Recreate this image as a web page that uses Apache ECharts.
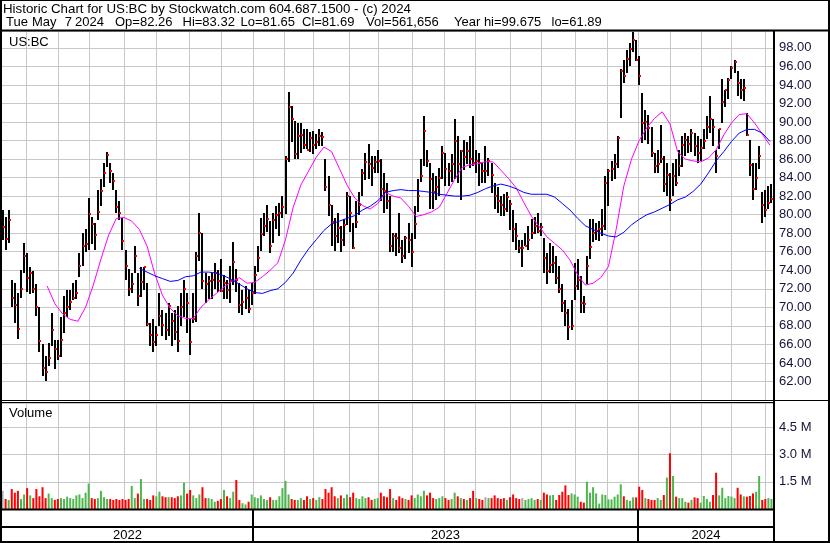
<!DOCTYPE html>
<html><head><meta charset="utf-8">
<script src="https://cdn.jsdelivr.net/npm/echarts@6/dist/echarts.min.js"></script>
<style>html,body{margin:0;padding:0;background:#fff}#c{width:830px;height:543px}</style>
</head><body><div id="c"></div>
<script>
// ---- DATA (one bar = 2 trading days, day index 0 = 9 May 2022, 502 trading days) ----
const highs = [80.5,79.8,80.5,73,72.6,71.5,74,76.9,75.9,74.4,73.9,72.5,70,66,64.7,66.1,69.4,66.5,66.5,69,71.2,71.9,71.9,72.6,73,75.9,78,78.4,81.8,79.8,
79.1,82.7,83.8,85.6,86.8,85.6,84.5,82.7,81.5,79.6,76.2,74.1,73.7,76.6,73.7,74.4,74.4,72.6,68.3,68.7,68,71.5,69.7,69.4,70.5,69.4,69.7,70.1,71.5,73,
71.5,68.7,71.6,76,80.2,78,73.7,73.4,73.7,74.8,74,75.2,73.5,73,74.5,77.1,74.1,72.6,71.9,72.3,71.9,72.6,74.5,76.6,79.6,80.2,81,79.3,80.2,80.9,
81.3,82,86.3,93.2,91.7,90.1,89.9,89.9,89.2,89.2,88.9,89,88.7,89.2,88.9,86,84.2,81,79.6,80.2,78.8,79.5,82.4,82,79.1,81.5,82.4,84.9,86.7,87.6,
86.3,86.3,87,86,84.5,83.4,82,78,78,80.2,77.3,77.7,79.1,78,80.9,83.8,86,90.6,87,85.6,84.5,84.2,85,87.4,86.7,85.6,86.5,90.3,88.5,87,
88.1,87.8,88.5,90.6,87,86.7,85.6,87.4,86.1,85.6,83.4,83,82,82.2,82.4,81.6,80.5,79.1,77.3,77.3,78,78.8,79.5,79.8,80.2,79.1,77.5,75.9,76.9,76.6,
75.5,74.5,72.5,70.8,69.8,70.8,74.8,75.2,73.4,71.2,75.5,79.5,79.5,79.1,79.3,80.6,84.2,84.9,85.8,86.5,88.5,95.7,96.7,97.8,98.5,99.675,98.9,97.1,93.1,91.3,
90.8,89.5,86.7,87,89.7,86.3,85.6,84.5,85.6,86,87,88.5,88.8,88.5,89.2,88.8,88.5,88.2,89.2,90.6,92.8,90.3,87,89.2,94.6,93.5,94.8,96,96.7,95.5,
94.6,94.6,91,88.1,85.6,85.6,87.4,82.4,82.7,83.1,83.32];
const lows = [77.3,76.2,76.9,70.1,68.3,66.5,71,73.7,71.7,71.5,71.5,69,65.1,62.5,62,63.6,65.8,63.4,64.3,64.7,67.2,69,69.7,70.8,71,73.3,74.4,75.9,76.2,76.9,
76.2,79.5,80.9,83,85.2,83.4,82.7,80.2,79.5,76.2,73,71.2,71.5,73.7,70.1,71.2,71.9,68,65.8,65.1,65.8,67.9,66.9,66.5,66.9,65.8,66.5,65.1,67.9,69,
67.2,64.8,68.4,68.5,75,72,70.5,70.9,70.9,72,71.6,71.6,70.9,70.9,70.5,72.5,71.6,69.4,69.2,69.8,69.4,70.2,71.5,73.8,76,77.7,78.1,75.9,77,78.4,
77.7,79.6,80,85.6,87.8,86,86,86.7,87,87,86.7,86.5,87.1,87.4,87.4,82.5,79.9,76.6,76,77,76,76.6,78.8,78.1,76.3,78.6,79.9,82,83.8,83.8,
83.1,84.5,84.5,81.5,80.2,80.6,76,75.9,75.5,75.9,74.8,75.2,75.9,74.3,77.3,80.2,83.5,85.2,85.2,80.6,80.6,81.6,82,83.8,83.1,83.1,83.5,83.8,83.4,81.6,
84.9,85.4,85,85.2,84.5,83.1,83.4,83.4,84.2,82.4,80.6,80.2,79.8,79.8,80.2,78.4,77,76.2,75.9,74.4,76.6,76.2,77.3,78,78,77.7,73.7,72.6,73.7,73.7,
72.5,71.6,69.5,68,66.5,67.6,70.8,71.9,69.4,69.4,72.5,75.2,77,77.3,77.1,77.7,78.4,80.9,83.6,83.8,85,90.4,94.2,95.3,96,97.5,96.6,94,87.7,88.1,
87.7,86.3,84.5,84.5,85.6,82.4,82,80.4,82,83.1,84.2,85.2,86.3,86.7,86.7,86.3,85.6,85.8,87,88.1,88.8,87.4,84.5,87,89.9,91.7,92.5,94.6,95.3,92.8,
92.4,92.2,88.5,84.2,81.6,82.7,84.9,79.1,79.8,80.6,81.3];
const closes = [78.7,77.4,79.4,71,70.3,67.7,72,75.5,73.2,73.7,72,70,66.4,63.5,63,64.5,67.5,65.5,64.8,66.5,69.4,70,70.6,71,71.5,74.5,76.6,76.8,80.1,79,
77.8,80.3,82.5,84.5,86.4,84.7,83.6,80.8,80.2,77.2,74.5,72,72.5,75.5,71.2,72.7,74.3,68.2,67,66.3,67,69.1,68.1,67.5,70.1,68.5,67.3,66.4,70,72,
70.5,66.3,68.7,75.5,78,72.8,72.5,72.8,73,73.7,72.8,71.8,72.6,71.9,72.8,74.9,73,70.3,70.6,71,69.8,71.5,73.5,75.3,77.9,78.8,79.5,76.6,79.4,80,
80.2,80.8,86,91.6,90.3,86.5,88.5,88.6,87.5,87,88.3,87.5,87.8,88.5,88.4,83,81,79.2,77.7,78.6,77.3,78.9,82,80.2,76.4,79.2,81,84.5,85.7,85.5,
85,85.7,85.8,82.8,82.5,81.5,76.6,77.7,77.5,76.4,75.5,77.5,77.3,76,79,82,84.2,89,85.8,83.8,82.4,83,84,86.7,84.9,84.7,85.5,87.9,85.5,86.9,
86.2,86.9,86,85.6,85.8,85.6,84.7,84.7,85.8,84.3,82,81.5,81,80.6,81.9,81.2,78.5,77.7,76.4,76.4,76.6,77.3,78,78.8,78.2,78.7,75.3,73.9,74.6,74.8,
73.2,72,70.5,69.4,67.9,68,72.3,73,70.5,70.4,74.5,76.5,78,78.2,78.4,78.8,83.4,84.7,84.9,85.5,88.3,95.5,95,96.8,97.9,98.8,96.7,95,89.9,90,
89.4,86.7,85.2,85.5,86,83.3,84.3,81.6,84.2,83.4,85.2,87.5,88.1,87.6,88.8,87.4,86.7,87.2,88,89.5,90.3,89.5,86.3,89.2,92.2,93.5,94.5,95.8,96.5,94.2,
93.5,93.7,88.6,85.4,82.8,84,86.3,81,80.5,81.3,81.69];
const volumes = [1.0,0.55,0.5,1.1,0.9,1.0,0.55,0.8,1.15,0.75,0.6,1.1,0.7,1.2,0.6,0.85,0.6,0.5,0.55,0.6,
0.55,0.68,0.6,0.55,0.75,0.8,0.6,0.9,1.4,0.6,0.55,0.6,1.0,0.65,0.55,0.55,0.5,0.55,0.5,0.55,
0.5,0.55,1.27,0.6,0.85,1.65,0.55,0.55,0.5,0.75,0.7,0.95,0.7,0.65,0.65,0.65,0.6,0.7,0.75,1.45,
0.85,1.05,0.75,0.6,0.8,1.2,0.6,0.6,0.55,0.4,0.45,0.55,1.05,0.7,0.6,0.95,1.6,0.5,0.32,0.25,
0.4,0.8,0.65,0.6,0.75,0.55,0.5,0.65,0.5,0.5,0.7,1.15,1.55,0.8,0.55,0.5,0.5,0.6,0.5,0.7,
0.55,0.6,0.5,0.65,0.55,1.1,0.9,1.2,0.7,0.6,0.75,0.6,0.8,0.65,0.9,0.6,0.55,0.7,0.6,0.65,
0.5,0.55,0.6,0.9,0.7,0.65,1.1,0.6,0.5,0.7,0.6,0.55,0.5,0.75,0.6,0.8,0.7,1.0,0.75,0.9,
0.6,0.55,0.6,0.7,0.6,0.5,0.55,0.9,0.7,0.6,0.55,0.5,0.6,1.0,0.6,0.55,0.5,0.65,0.6,0.6,
0.75,0.6,0.55,0.6,0.5,0.65,0.8,0.6,0.55,0.6,0.5,0.55,0.6,0.5,0.55,0.5,0.9,0.8,0.75,0.77,
0.5,0.77,0.95,1.3,0.77,0.86,0.8,0.68,0.4,0.35,1.5,0.9,1.2,0.86,0.3,0.8,0.77,0.53,0.53,0.68,
0.8,1.36,0.7,0.5,0.45,0.64,0.64,1.23,1.05,0.6,0.55,0.5,0.5,0.6,0.5,0.77,1.73,3.07,1.82,0.68,
0.6,0.6,0.4,0.35,0.5,0.64,0.6,0.35,0.72,0.55,0.4,0.77,2.0,0.75,1.17,0.6,0.72,0.68,0.6,1.17,
0.8,0.7,0.68,0.72,0.86,0.95,1.82,0.5,0.55,0.6,0.55];
// moving averages, one value every 5 trading days
const pinkStart = 30, blueStart = 90, maStep = 5;
const pinkMA = [72.3,70.4,69.3,68.7,68.5,70,72.4,75.2,77.8,79.6,79.7,79.3,78.4,76.6,73.6,71.3,69.9,69.1,68.8,68.8,
70,70.8,71.5,72.2,72.8,73.2,72.6,72.7,73.3,74,74.8,77.3,80.8,83.2,84.7,86.2,87.3,86.8,85,83.2,
81.8,81,80.6,81.2,82.4,82,81.8,80.9,79.8,80,80.3,80.8,82.3,83.8,85.1,85.4,85.5,85.7,85.7,84.8,
83.9,82.9,81.3,79.8,78.7,77.6,76.9,76.2,75.1,73.5,72.4,72.6,73.2,74.4,78.4,83.1,86,88,89.4,90.4,
91.1,89.8,86.8,86,85.8,85.7,86.1,87,88.6,89.9,90.8,90.9,89.9,88.7,87.5];
const blueMA = [74.2,73.8,73.4,73.1,72.8,72.9,73.3,73.4,73.8,73.8,73.7,73.4,73,72.5,72,71.6,71.5,71.8,72,72.7,
73.7,75.1,76.3,77.3,78.3,79,79.3,79.6,79.9,80.5,80.9,81.5,82.4,82.6,82.7,82.6,82.6,82.5,82.4,82.2,
82.1,82,82,82.1,82.4,82.8,83.1,83.3,83.1,82.8,82.4,82.2,82.2,82.2,81.9,81.2,80.5,79.6,78.8,78.4,
78,77.7,77.6,78.1,78.9,79.5,80,80.3,80.7,81.1,81.6,81.9,82.5,83.3,84.5,85.8,86.8,87.9,88.8,89.2,
89.2,88.8,87.9];
const monthStarts = [16,37,57,80,101,122,143,164,184,203,226,245,267,288,308,331,351,373,394,414,435,455,475,497];
const yearLabels = ['2022','2023','2024'];
const yearStartDays = [0,164,414];
const totalDays = 502;
const titleText = 'Historic Chart for US:BC by Stockwatch.com 604.687.1500 - (c) 2024';
const statParts = ['Tue','May','7','2024','Op=82.26','Hi=83.32','Lo=81.65','Cl=81.69','Vol=561,656','Year hi=99.675','lo=61.89'];
const symbolName = 'US:BC';

// ---- LAYOUT / STYLE ----
const FONT = '"Liberation Sans", Arial, sans-serif';
const GRID_C = '#c8c8c8';
const statX = [6,32,64.8,75,115,182.5,240.5,302,366,454,551.5];
const UP = '#4db74d', DOWN = '#ff0000', FLAT = '#a8a8a8';

const chart = echarts.init(document.getElementById('c'), null, {renderer:'canvas'});

const barData = highs.map((h,k)=>[2*k+1, h, lows[k], closes[k]]);
const volData = volumes.map((v,k)=>{
  const prev = k>0 ? closes[k-1] : closes[k];
  const col = closes[k] > prev ? UP : (closes[k] < prev ? DOWN : FLAT);
  return {value:[2*k+1, v], itemStyle:{color:col}};
});
const pinkData = pinkMA.map((v,j)=>[pinkStart + maStep*j, v]);
const blueData = blueMA.map((v,j)=>[blueStart + maStep*j, v]);
const monthData = monthStarts.map(d=>[d, 0]);

function renderBar(params, api){
  const d = api.value(0);
  const top = api.coord([d, api.value(1)]);
  const bot = api.coord([d, api.value(2)]);
  const cl = api.coord([d, api.value(3)]);
  const x = Math.round(top[0]);
  return {type:'group', children:[
    {type:'rect', shape:{x:x-1, y:Math.round(top[1]), width:2, height:Math.max(1, Math.round(bot[1]-top[1]))}, style:{fill:'#000'}},
    {type:'rect', shape:{x:x, y:Math.round(cl[1])-1, width:2, height:2}, style:{fill:'#ff0000'}}
  ]};
}
function renderMonth(params, api){
  const cs = params.coordSys;
  const x = Math.round(api.coord([api.value(0), 0])[0]) + 0.5;
  return {type:'line', shape:{x1:x, y1:cs.y, x2:x, y2:cs.y+cs.height}, style:{stroke:GRID_C, lineWidth:1}};
}

const axisLabelStyle = {color:'#141438', fontSize:13, fontFamily:FONT, margin:6};

chart.setOption({
  animation:false,
  backgroundColor:'#ffffff',
  grid:[{left:1, right:57, top:31, bottom:143}, {left:1, right:57, top:403, bottom:34}],
  xAxis:[
    {type:'value', gridIndex:0, min:0, max:totalDays, show:false},
    {type:'value', gridIndex:1, min:0, max:totalDays, show:false}
  ],
  yAxis:[
    {type:'value', gridIndex:0, position:'right', min:60, max:99.82, interval:2,
     axisLine:{show:false}, axisTick:{show:false},
     axisLabel:Object.assign({}, axisLabelStyle, {formatter:v=>(v>60.5 && v<99) ? v.toFixed(2) : ''}),
     splitLine:{show:true, lineStyle:{color:GRID_C, width:1}}},
    {type:'value', gridIndex:1, position:'right', min:0, max:5.84, interval:1.5,
     axisLine:{show:false}, axisTick:{show:false},
     axisLabel:Object.assign({}, axisLabelStyle, {formatter:v=>(v>0.1 && v<5.5) ? v.toFixed(1)+' M' : ''}),
     splitLine:{show:true, lineStyle:{color:GRID_C, width:1}}}
  ],
  series:[
    {type:'custom', name:'months', xAxisIndex:0, yAxisIndex:0, z:1, silent:true, renderItem:renderMonth, data:monthData, encode:{x:0,y:1}},
    {type:'custom', name:'months2', xAxisIndex:1, yAxisIndex:1, z:1, silent:true, renderItem:renderMonth, data:monthData, encode:{x:0,y:1}},
    {type:'custom', name:'price', xAxisIndex:0, yAxisIndex:0, z:3, silent:true, renderItem:renderBar, data:barData, encode:{x:0, y:[1,2]}},
    {type:'line', name:'ma1', xAxisIndex:0, yAxisIndex:0, z:4, data:pinkData, showSymbol:false, silent:true,
     lineStyle:{color:'#ff00ff', width:1}},
    {type:'line', name:'ma2', xAxisIndex:0, yAxisIndex:0, z:4, data:blueData, showSymbol:false, silent:true,
     lineStyle:{color:'#0000ff', width:1}},
    {type:'bar', name:'vol', xAxisIndex:1, yAxisIndex:1, z:3, data:volData, barWidth:2, silent:true}
  ]
});

// ---- frame, header and year band ----
const px = d => chart.convertToPixel({xAxisIndex:0}, d);
const W = 830, H = 543, SEP = 774;
const g = [];
function hline(y, x1, x2, w){ g.push({type:'line', silent:true, z:100, shape:{x1:x1,y1:y,x2:x2,y2:y}, style:{stroke:'#000', lineWidth:w}}); }
function vline(x, y1, y2, w){ g.push({type:'line', silent:true, z:100, shape:{x1:x,y1:y1,x2:x,y2:y2}, style:{stroke:'#000', lineWidth:w}}); }
function text(s, x, y, align, size){ g.push({type:'text', silent:true, z:101, style:{text:s, x:x, y:y, font:(size||13)+'px '+FONT, fill:'#000', textAlign:align||'left', textVerticalAlign:'middle'}}); }

g.push({type:'rect', silent:true, z:99, shape:{x:0,y:0,width:W,height:31}, style:{fill:'#fff'}});
g.push({type:'rect', silent:true, z:99, shape:{x:0,y:509,width:SEP,height:34}, style:{fill:'#fff'}});

hline(0.5, 0, W, 1);
vline(1, 0, H, 2);
vline(829, 0, H, 2);
hline(542, 0, W, 2);
hline(30.5, 0, W, 2);
vline(SEP, 31, H, 2);
hline(400.5, 0, W, 1);
hline(402.5, 0, SEP, 1);
hline(509.5, 0, SEP, 2);
hline(527, 0, SEP, 2);

text(titleText, 3, 9.5, 'left', 13.3);
statParts.forEach((s,i)=>text(s, statX[i], 22.5));
text(symbolName, 9, 42);
text('Volume', 9, 413.5);

const bounds = yearStartDays.map(d => d===0 ? 2 : Math.round(px(d)));
bounds.push(SEP);
yearStartDays.forEach((d,i)=>{
  if (d !== 0) vline(bounds[i], 509, 542, 2);
  text(yearLabels[i], (bounds[i]+bounds[i+1])/2, 535, 'center');
});

chart.setOption({graphic:{elements:g}});
</script>
</body></html>
